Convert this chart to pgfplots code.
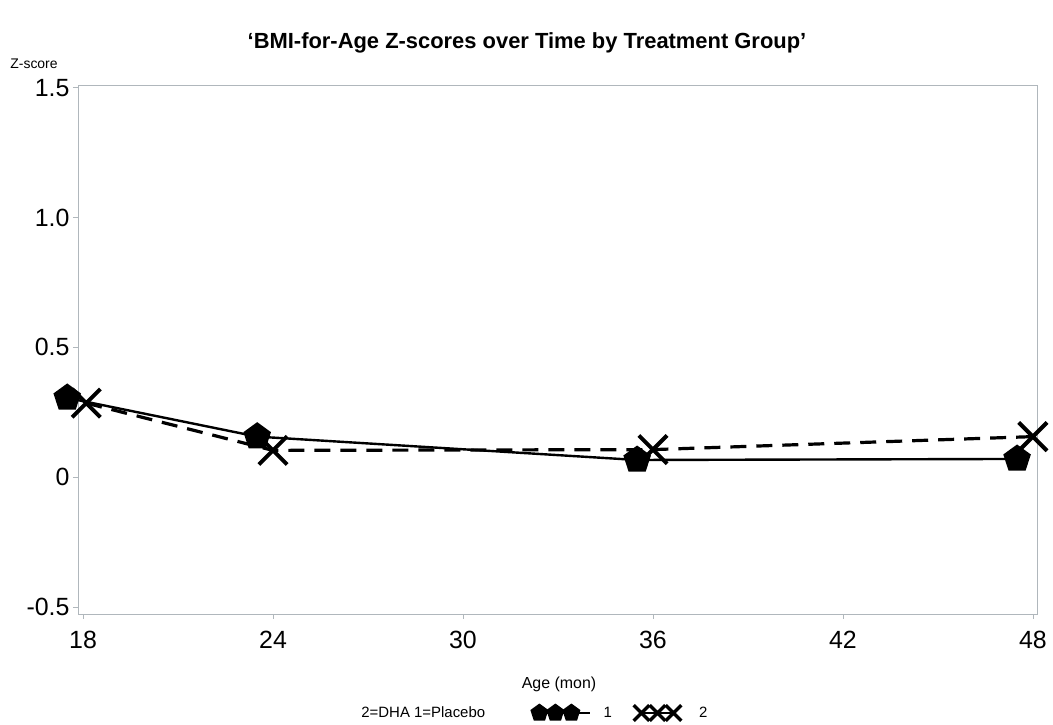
\documentclass[border=0pt]{standalone}
\usepackage{fontspec}
\setmainfont{Liberation Sans}
\usepackage{pgfplots}
\pgfplotsset{compat=1.18}
\usetikzlibrary{plotmarks}
\definecolor{axgray}{RGB}{176,183,188}
\pgfplotsset{
  pentleg/.style={legend image code/.code={\path (0bp,0bp) (68bp,0bp); \draw[##1, mark size=8bp, line width=2.4bp] plot coordinates {(7bp,0bp) (23bp,0bp) (39bp,0bp)} -- (58bp,0bp);}},
  crossleg/.style={legend image code/.code={\path (0bp,0bp) (62bp,0bp); \draw[##1, mark size=11bp, solid, line width=2.4bp, mark options={line width=3.5bp}] plot coordinates {(8bp,0bp) (24bp,0bp) (40bp,0bp)};}},
}
\begin{document}
\begin{tikzpicture}[x=1bp,y=1bp]
\useasboundingbox (-78,-111) rectangle (975,614);
\begin{axis}[
  at={(0,0)}, anchor=south west,
  scale only axis, width=959bp, height=529bp,
  xmin=17.84, xmax=48.13, ymin=-0.527, ymax=1.51,
  clip=false,
  axis line style={axgray, line width=0.8pt},
  tick style={axgray, line width=0.8pt},
  tick align=outside, major tick length=5bp,
  xtick pos=bottom, ytick pos=left,
  xtick={18,24,30,36,42,48},
  ytick={-0.5,0,0.5,1.0,1.5},
  yticklabels={-0.5,0,0.5,1.0,1.5},
  xticklabels={18,24,30,36,42,48},
  tick label style={font=\fontsize{25}{28}\selectfont, black},
  /pgf/number format/assume math mode=true,
  xticklabel style={yshift=-9bp},
  yticklabel style={xshift=0bp},
  legend style={at={(289bp,-99bp)}, anchor=west, draw=none, fill=none,
    font=\fontsize{15}{17}\selectfont, legend columns=3,
    /tikz/every even column/.append style={column sep=18bp}},
  legend cell align=left,
]
\addlegendimage{empty legend}
\addlegendentry{2=DHA 1=Placebo\kern26bp}
\addplot[black, solid, line width=2.4bp, mark=pentagon*, mark size=13bp, mark options={solid, fill=black}, pentleg]
  coordinates {(17.5,0.305) (23.5,0.156) (35.5,0.066) (47.5,0.070)};
\addlegendentry{1}
\addplot[black, dash pattern=on 16bp off 10bp, line width=3.2bp, mark=x, mark size=20bp, mark options={solid, line width=4bp}, crossleg]
  coordinates {(18.1,0.285) (24,0.103) (36,0.106) (48,0.156)};
\addlegendentry{2}
\end{axis}
\node[font=\fontsize{22}{26}\selectfont\bfseries] at (449,571) {‘BMI-for-Age Z-scores over Time by Treatment Group’};
\node[font=\fontsize{14}{16}\selectfont] at (-44,550) {Z-score};
\node[font=\fontsize{16}{18}\selectfont] at (481,-70) {Age (mon)};
\end{tikzpicture}
\end{document}
